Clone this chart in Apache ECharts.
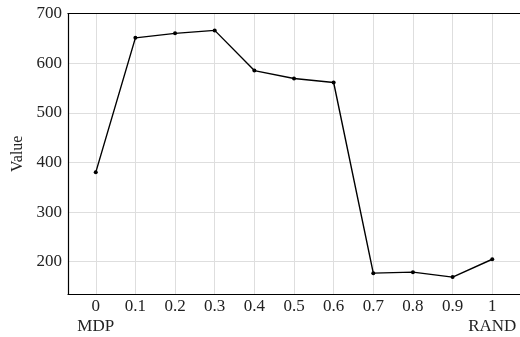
<!DOCTYPE html>
<html>
<head>
<meta charset="utf-8">
<script src="https://cdn.jsdelivr.net/npm/echarts@6/dist/echarts.min.js"></script>
<style>
  html, body { margin: 0; padding: 0; background: #fff; }
  #chart { width: 520px; height: 337px; }
</style>
</head>
<body>
<div id="chart"></div>
<script>
const xValues = [0, 0.1, 0.2, 0.3, 0.4, 0.5, 0.6, 0.7, 0.8, 0.9, 1]
const yValues = [380, 651, 660, 666, 585, 569, 561, 177, 179, 169, 205]
const xTicks = [0, 0.1, 0.2, 0.3, 0.4, 0.5, 0.6, 0.7, 0.8, 0.9, 1]
const yTicks = [200, 300, 400, 500, 600, 700]
const xNames = { 0: '0\nMDP', 1: '1\nRAND' }

const font = 'Liberation Serif'
const chart = echarts.init(document.getElementById('chart'), null, { renderer: 'canvas' })

chart.setOption({
  animation: false,
  backgroundColor: '#fff',
  grid: { left: 68, right: -2, top: 13.5, bottom: 41 },
  xAxis: [{
    type: 'value', min: -0.07, max: 1.07,
    axisLine: { show: true, onZero: false, lineStyle: { color: '#000', width: 1.2 } },
    axisTick: { show: false, customValues: xTicks },
    splitLine: { show: true, customValues: xTicks, lineStyle: { color: '#dedede', width: 1 } },
    axisLabel: {
      customValues: xTicks, margin: 3, color: '#222', fontFamily: font, fontSize: 17, lineHeight: 20,
      formatter: v => xNames[v] || String(v)
    }
  }, {
    // top frame line
    type: 'value', position: 'top', min: -0.07, max: 1.07,
    axisLine: { show: true, onZero: false, lineStyle: { color: '#000', width: 1.2 } },
    axisTick: { show: false }, axisLabel: { show: false }, splitLine: { show: false }
  }],
  yAxis: {
    type: 'value', min: 135, max: 700,
    name: 'Value', nameLocation: 'middle', nameGap: 35, nameRotate: 90,
    nameTextStyle: { color: '#222', fontFamily: font, fontSize: 16 },
    axisLine: { show: true, onZero: false, lineStyle: { color: '#000', width: 1.2 } },
    axisTick: { show: false, customValues: yTicks },
    splitLine: { show: true, customValues: yTicks, lineStyle: { color: '#dedede', width: 1 } },
    axisLabel: { customValues: yTicks, margin: 6, color: '#222', fontFamily: font, fontSize: 17 }
  },
  series: [{
    type: 'line',
    data: xValues.map((x, i) => [x, yValues[i]]),
    lineStyle: { color: '#000', width: 1.4 },
    itemStyle: { color: '#000' },
    symbol: 'circle', symbolSize: 4
  }]
})
</script>
</body>
</html>
